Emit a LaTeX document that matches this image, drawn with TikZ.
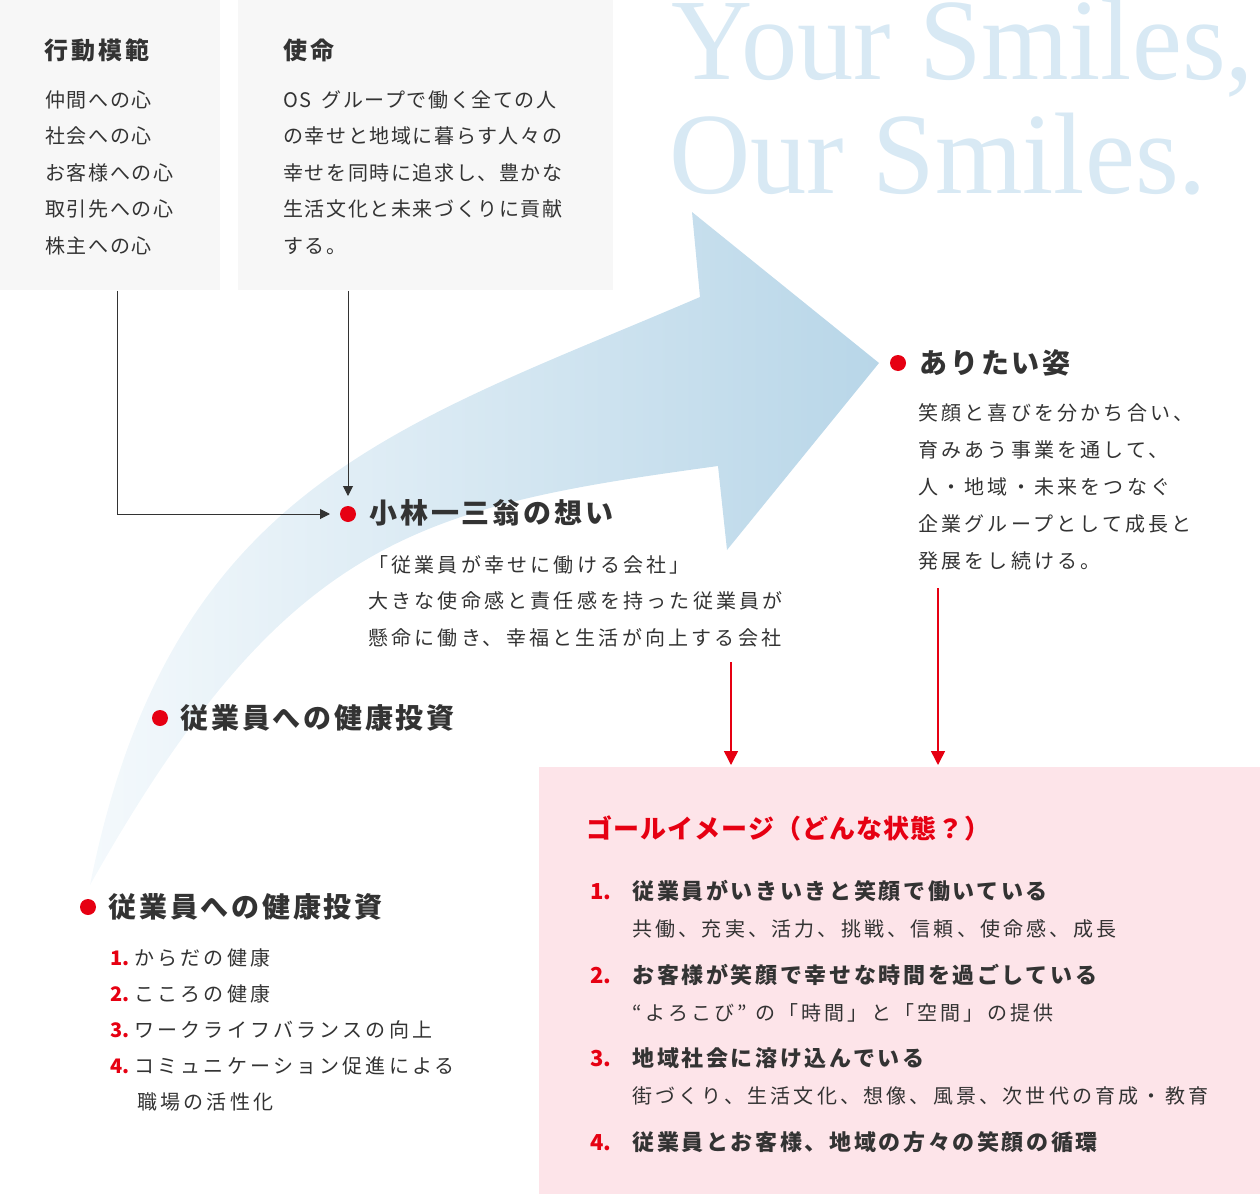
\documentclass[tikz,border=0pt]{standalone}
\usepackage{fontspec}
\usepackage{xcolor}
\usepackage{graphicx}
\usepackage{tikz}
\usetikzlibrary{calc,arrows.meta,positioning}

\newfontfamily\jpbody{Noto Sans CJK JP}[LetterSpace=16]
\newfontfamily\jpbox{Noto Sans CJK JP}[LetterSpace=8]
\newfontfamily\jphead{Noto Sans CJK JP}[LetterSpace=10]
\newfontfamily\jpboxhead{Noto Sans CJK JP}[LetterSpace=12]
\newfontfamily\jpitem{Noto Sans CJK JP}[LetterSpace=12]
\newfontfamily\jpgoal{Noto Sans CJK JP}[LetterSpace=4]
\newfontfamily\jpnum{Noto Sans CJK JP}
\newfontfamily\smilefont{Liberation Serif}

\definecolor{osred}{RGB}{230,0,18}
\definecolor{textdark}{RGB}{51,51,51}
\definecolor{boxgray}{RGB}{247,247,247}
\definecolor{goalpink}{RGB}{253,228,233}
\definecolor{smileblue}{RGB}{216,233,244}
\definecolor{arrowpale}{RGB}{244,249,252}
\definecolor{arrowblue}{RGB}{184,214,232}

\newcommand{\lnum}[1]{\makebox[12pt][l]{\textcolor{osred}{\jpnum\bfseries #1}}}
\newcommand{\gnum}[1]{\makebox[21pt][l]{\textcolor{osred}{\jpnum\bfseries #1}}}
\newcommand{\gsub}[1]{\hspace*{21pt}{\jpbody\mdseries\fontsize{10}{18.5}\selectfont #1}}

\begin{document}
\begin{tikzpicture}[x=0.5pt, y=-0.5pt,
    graybox/.style={fill=boxgray, anchor=north west, inner sep=0},
    reddot/.style={circle, fill=osred, minimum size=8pt, inner sep=0, outer sep=5pt},
    headtext/.style={anchor=west, inner sep=0, text=textdark, font={\jphead\bfseries\fontsize{14}{17}\selectfont}},
    boxhead/.style={anchor=west, inner sep=0, text=textdark, font={\jpboxhead\bfseries\fontsize{12}{15}\selectfont}},
    boxtext/.style={anchor=north west, inner sep=0, align=left, text=textdark, font={\jpbox\fontsize{10}{18.25}\selectfont}},
    bodytext/.style={anchor=north west, inner sep=0, align=left, text=textdark, font={\jpbody\fontsize{10}{18.25}\selectfont}},
    smiletext/.style={anchor=base west, inner sep=0, text=smileblue, font={\smilefont\fontsize{58}{58}\selectfont}},
    conn/.style={draw=textdark, line width=0.5pt, -{Triangle[length=5pt,width=5pt]}},
    redarrow/.style={draw=osred, line width=0.75pt, -{Triangle[length=7pt,width=7pt]}}]
    \useasboundingbox (0,0) rectangle (1260,1194);

    % Boxes at the top
    \node[graybox, minimum width=110pt, minimum height=145pt] (kodo) at (0,0) {};
    \node[graybox, minimum width=187.5pt, minimum height=145pt] (shimei) at (238,0) {};
    \node[boxhead] (kodotitle) at (44,50) {行動模範};
    \node[boxtext] (kodotext) at (45,90) {仲間への心\\社会への心\\お客様への心\\取引先への心\\株主への心};
    \node[boxhead] (shimeititle) at (283,50) {使命};
    \node[boxtext] (shimeitext) at (283,90) {OS\enspace グループで働く全ての人\\の幸せと地域に暮らす人々の\\幸せを同時に追求し、豊かな\\生活文化と未来づくりに貢献\\する。};

    % Slogan
    \node[smiletext] (yours) at (671,79) {\scalebox{0.97}[1]{Your Smiles,}};
    \node[smiletext] (ours) at (669,193) {\scalebox{0.97}[1]{Our Smiles.}};

    % Big curved arrow
    \shade[left color=arrowpale, right color=arrowblue]
        (90,885) .. controls (170,485) and (400,426) .. (700,297)
        -- (692,212) -- (879,363) -- (727,550) -- (718,466)
        .. controls (418,507) and (286,537) .. (90,885) -- cycle;

    % Kobayashi Ichizo
    \node[reddot] (kobadot) at (348,514) {};
    \node[headtext] (kobatitle) at (369,513) {小林一三翁の想い};
    \node[bodytext] (kobatext) at (368,555) {「従業員が幸せに働ける会社」\\大きな使命感と責任感を持った従業員が\\懸命に働き、幸福と生活が向上する会社};

    % Connectors from the boxes
    \draw[conn] ($(kodo.south west)+(117,0)$) |- (kobadot);
    \draw[conn] ($(shimei.south west)+(110,0)$) -- (kobadot);

    % Vision
    \node[reddot] (aritadot) at (898,363) {};
    \node[headtext] (aritatitle) at (919,363) {ありたい姿};
    \node[bodytext, font={\jpbody\fontsize{10}{18.5}\selectfont}] (aritatext) at (918,403) {笑顔と喜びを分かち合い、\\育みあう事業を通して、\\人・地域・未来をつなぐ\\企業グループとして成長と\\発展をし続ける。};

    % Health investment
    \node[reddot] (kenkodot) at (160,718) {};
    \node[headtext] (kenkotitle) at (180,718) {従業員への健康投資};
    \node[reddot] (investdot) at (88,907) {};
    \node[headtext] (investtitle) at (108,907) {従業員への健康投資};
    \node[bodytext, font={\jpbody\fontsize{10}{18}\selectfont}] (investlist) at (110,948) {\lnum{1.}からだの健康\\\lnum{2.}こころの健康\\\lnum{3.}ワークライフバランスの向上\\\lnum{4.}コミュニケーション促進による\\\hspace*{13.5pt}職場の活性化};

    % Goal image
    \node[graybox, fill=goalpink, minimum width=360.5pt, minimum height=213.5pt] (goal) at (539,767) {};
    \node[anchor=west, inner sep=0, text=osred, font={\jpgoal\bfseries\fontsize{13}{16}\selectfont}] (goaltitle) at (586,828) {ゴールイメージ（どんな状態？）};
    \node[bodytext, font={\jpitem\bfseries\fontsize{11}{18.5}\selectfont}] (goallist) at (590,880) {%
        \gnum{1.}従業員がいきいきと笑顔で働いている\\
        \gsub{共働、充実、活力、挑戦、信頼、使命感、成長}\\[4.75pt]
        \gnum{2.}お客様が笑顔で幸せな時間を過ごしている\\
        \gsub{“よろこび” の「時間」と「空間」の提供}\\[4.75pt]
        \gnum{3.}地域社会に溶け込んでいる\\
        \gsub{街づくり、生活文化、想像、風景、次世代の育成・教育}\\[4.75pt]
        \gnum{4.}従業員とお客様、地域の方々の笑顔の循環};

    % Red arrows into the goal
    \coordinate (goalin1) at ($(goal.north west)+(192,-2)$);
    \coordinate (goalin2) at ($(goal.north west)+(399,-2)$);
    \draw[redarrow, shorten <=7.5pt] (goalin1 |- kobatext.south) -- (goalin1);
    \draw[redarrow, shorten <=9pt] (goalin2 |- aritatext.south) -- (goalin2);
\end{tikzpicture}
\end{document}
